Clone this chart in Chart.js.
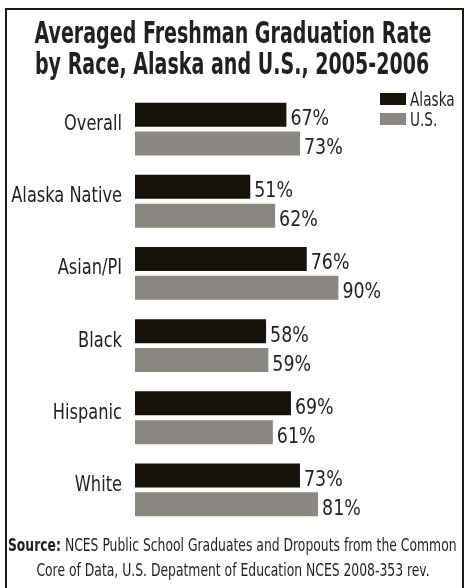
<!DOCTYPE html>
<html>
<head>
<meta charset="utf-8">
<script src="https://cdn.jsdelivr.net/npm/chart.js@4/dist/chart.umd.min.js"></script>
<style>
  html, body { margin: 0; padding: 0; background: #fff; overflow: hidden; }
  #wrap { position: relative; width: 465px; height: 588px; font-family: 'DejaVu Sans Condensed', 'DejaVu Sans', sans-serif; color: #231f20; }
  #chart { position: absolute; left: 0; top: 0; }
  #frame { position: absolute; left: 5px; top: 8px; width: 459px; height: 600px; border: 2px solid #1c1812; box-sizing: border-box; }
  #title { position: absolute; left: 0; top: 17px; width: 465px; font-weight: bold; font-size: 30px; line-height: 31px; }
  #source { position: absolute; left: 0; top: 533px; width: 465px; font-size: 17px; line-height: 25px; }
  .line { display: flex; justify-content: center; white-space: nowrap; }
  .fit { flex: none; transform-origin: 50% 50%; }
  .lg-box { position: absolute; width: 26px; height: 12px; }
  .lg-text { position: absolute; font-size: 20px; line-height: 20px; white-space: nowrap; transform-origin: 0 50%; }
</style>
</head>
<body>
<div id="wrap">
  <canvas id="chart" width="465" height="588"></canvas>
  <div id="frame"></div>
  <div id="title">
    <div class="line"><span class="fit" id="t1">Averaged Freshman Graduation Rate</span></div>
    <div class="line"><span class="fit">by Race, Alaska and U.S., 2005-2006</span></div>
  </div>
  <div id="legend"></div>
  <div id="source">
    <div class="line"><span class="fit" id="s1"><b>Source:</b> NCES Public School Graduates and Dropouts from the Common</span></div>
    <div class="line"><span class="fit">Core of Data, U.S. Depatment of Education NCES 2008-353 rev.</span></div>
  </div>
</div>
<script>
// data
const categories = ['Overall', 'Alaska Native', 'Asian/PI', 'Black', 'Hispanic', 'White'];
const alaskaRates = [67, 51, 76, 58, 69, 73];
const usRates = [73, 62, 90, 59, 61, 81];
const seriesNames = ['Alaska', 'U.S.'];

const FONT = "'DejaVu Sans Condensed', 'DejaVu Sans', sans-serif";
const TEXT = '#231f20';
const colors = ['#17130b', '#8b8884'];

// the original type is a narrow condensed face, squeeze DejaVu to match
function drawNarrow(ctx, text, x, y, sx) {
    ctx.save();
    ctx.translate(x, y);
    ctx.scale(sx, 1);
    ctx.fillText(text, 0, 0);
    ctx.restore();
}

// category names + percent labels
const textLabels = {
    id: 'textLabels',
    afterDatasetsDraw(chart) {
        const ctx = chart.ctx;
        const yScale = chart.scales.y;
        ctx.save();
        ctx.fillStyle = TEXT;
        ctx.textBaseline = 'alphabetic';

        ctx.font = '22px ' + FONT;
        ctx.textAlign = 'right';
        categories.forEach((c, i) => {
            drawNarrow(ctx, c, yScale.right - 13, yScale.getPixelForTick(i) + 1, 0.82);
        });

        ctx.textAlign = 'left';
        chart.data.datasets.forEach((ds, i) => {
            chart.getDatasetMeta(i).data.forEach((bar, j) => {
                drawNarrow(ctx, ds.data[j] + '%', bar.x + 4, bar.y + 10.5, 0.88);
            });
        });
        ctx.restore();
    }
};

new Chart(document.getElementById('chart'), {
    type: 'bar',
    data: {
        labels: categories,
        datasets: [
            { label: seriesNames[0], data: alaskaRates, backgroundColor: colors[0] },
            { label: seriesNames[1], data: usRates, backgroundColor: colors[1] }
        ]
    },
    options: {
        indexAxis: 'y',
        responsive: false,
        animation: false,
        devicePixelRatio: 1,
        categoryPercentage: 0.8,
        barPercentage: 0.83,
        layout: { padding: { left: 0, top: 93, right: 104, bottom: 62 } },
        plugins: {
            legend: { display: false },
            tooltip: { enabled: false }
        },
        scales: {
            x: { display: false, min: 0, max: 100 },
            y: {
                grid: { display: false },
                border: { display: false },
                ticks: { display: false },
                afterFit(scale) { scale.width = 135; }
            }
        }
    },
    plugins: [textLabels]
});

// legend in the top right corner
const legend = document.getElementById('legend');
seriesNames.forEach((name, i) => {
    const box = document.createElement('div');
    box.className = 'lg-box';
    box.style.left = '380px';
    box.style.top = (93 + i * 20) + 'px';
    box.style.background = colors[i];
    legend.appendChild(box);
    const txt = document.createElement('div');
    txt.className = 'lg-text';
    txt.style.left = '410px';
    txt.style.top = (89 + i * 20) + 'px';
    txt.style.transform = 'scaleX(0.76)';
    txt.textContent = name;
    legend.appendChild(txt);
});

// squeeze title and source lines to the widths in the reference
function fitBlock(block, firstId, target) {
    const k = target / document.getElementById(firstId).offsetWidth;
    block.querySelectorAll('.fit').forEach(s => { s.style.transform = 'scaleX(' + k + ')'; });
}
fitBlock(document.getElementById('title'), 't1', 397);
fitBlock(document.getElementById('source'), 's1', 449);
</script>
</body>
</html>
